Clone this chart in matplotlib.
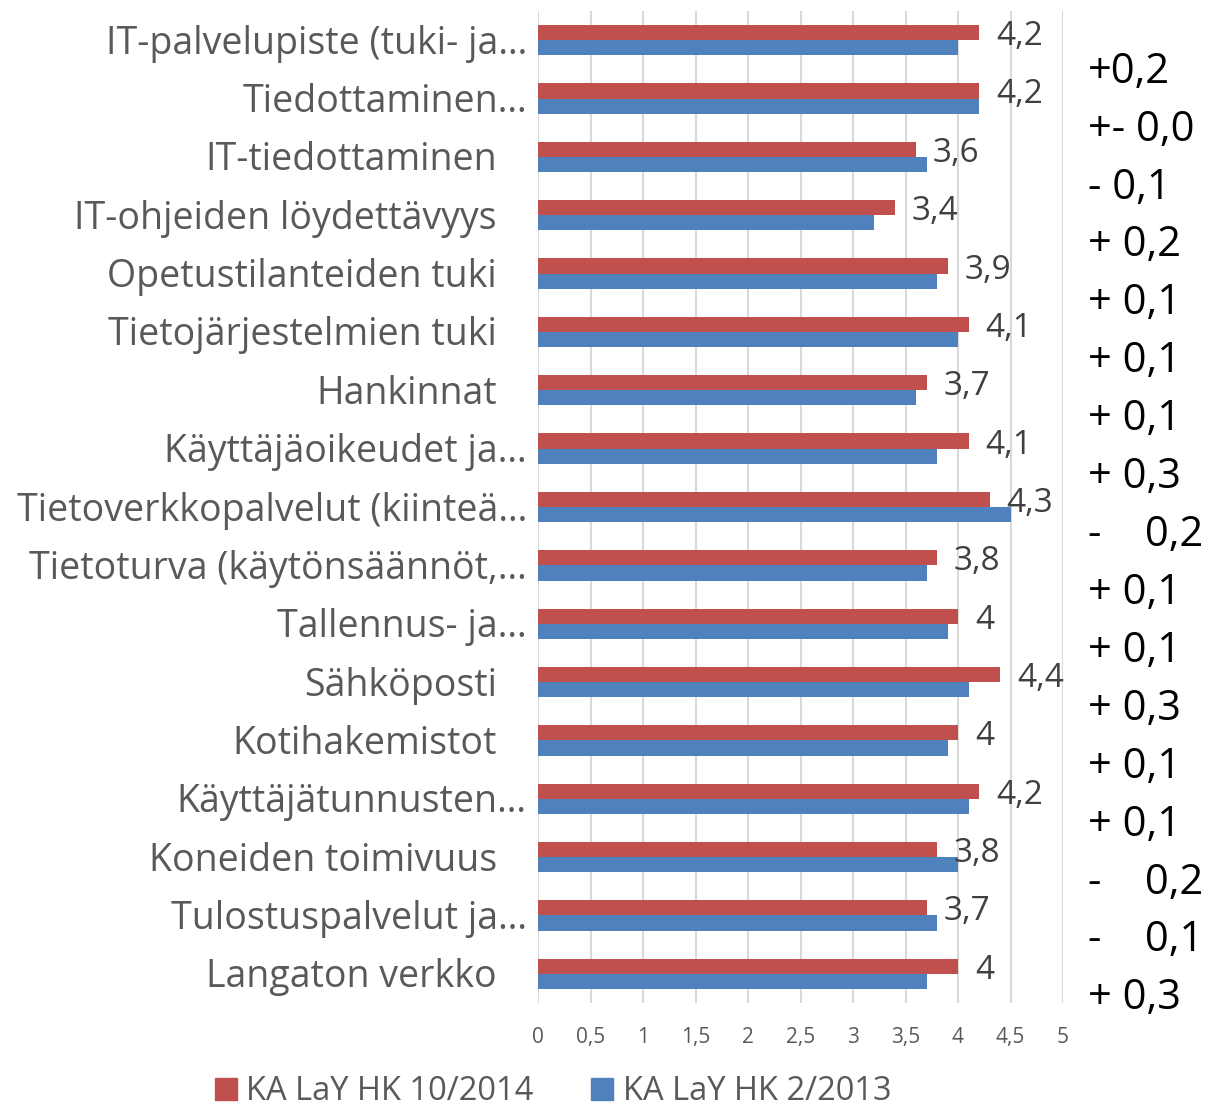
import numpy as np
import matplotlib
matplotlib.use("Agg")
from matplotlib import pyplot as plt
from matplotlib.patches import Patch
from matplotlib import transforms

categories = ['IT-palvelupiste (tuki- ja…', 'Tiedottaminen…', 'IT-tiedottaminen',
              'IT-ohjeiden löydettävyys', 'Opetustilanteiden tuki', 'Tietojärjestelmien tuki',
              'Hankinnat', 'Käyttäjäoikeudet ja…', 'Tietoverkkopalvelut (kiinteä…',
              'Tietoturva (käytönsäännöt,…', 'Tallennus- ja…', 'Sähköposti',
              'Kotihakemistot', 'Käyttäjätunnusten…', 'Koneiden toimivuus',
              'Tulostuspalvelut ja…', 'Langaton verkko']
ka_2014 = [4.2, 4.2, 3.6, 3.4, 3.9, 4.1, 3.7, 4.1, 4.3, 3.8, 4, 4.4, 4, 4.2, 3.8, 3.7, 4]
ka_2013 = [4.0, 4.2, 3.7, 3.2, 3.8, 4.0, 3.6, 3.8, 4.5, 3.7, 3.9, 4.1, 3.9, 4.1, 4.0, 3.8, 3.7]
value_labels = ['4,2', '4,2', '3,6', '3,4', '3,9', '4,1', '3,7', '4,1', '4,3', '3,8',
                '4', '4,4', '4', '4,2', '3,8', '3,7', '4']
changes = ['+0,2', '+- 0,0', '- 0,1', '+ 0,2', '+ 0,1', '+ 0,1', '+ 0,1', '+ 0,3',
           '-    0,2', '+ 0,1', '+ 0,1', '+ 0,3', '+ 0,1', '+ 0,1', '-    0,2',
           '-    0,1', '+ 0,3']
x_ticks = [0, 0.5, 1, 1.5, 2, 2.5, 3, 3.5, 4, 4.5, 5]
x_tick_labels = ['0', '0,5', '1', '1,5', '2', '2,5', '3', '3,5', '4', '4,5', '5']

red = '#C0504D'
blue = '#4F81BD'
grey = '#595959'

plt.rcParams['font.family'] = ['Open Sans', 'DejaVu Sans']

fig = plt.figure(figsize=(12.1, 11.11), dpi=100)
ax = fig.add_axes([538/1210, 1 - 1003/1111, 525/1210, 992/1111])

y = np.arange(len(categories))
h = 0.26
ax.barh(y - h/2, ka_2014, height=h, color=red, zorder=3)
ax.barh(y + h/2, ka_2013, height=h, color=blue, zorder=3)

ax.set_xlim(0, 5)
ax.set_ylim(len(categories) - 0.5, -0.5)
ax.set_xticks(x_ticks)
ax.set_xticklabels(x_tick_labels, fontsize=15, color=grey)
ax.tick_params(axis='x', length=0, pad=17)
ax.set_yticks([])
ax.grid(axis='x', color='#d9d9d9', linewidth=1.5, zorder=0)
for s in ax.spines.values():
    s.set_visible(False)

# value labels for the newer series
for yi, v, lab in zip(y, ka_2014, value_labels):
    ax.annotate(lab, (v, yi - h/2), xytext=(17, -4), textcoords='offset pixels',
                va='center', ha='left', fontsize=24, color='#404040')

# category labels (truncated ones stick out a little, like in Excel)
trans = transforms.blended_transform_factory(ax.transAxes, ax.transData)
for yi, cat in zip(y, categories):
    xr = -11/525 if cat.endswith('…') else -41/525
    ax.text(xr, yi + 0.06, cat, transform=trans, ha='right', va='center',
            fontsize=27, color=grey)

# change column on the right
for yi, c in zip(y, changes):
    ax.text(1.048, 0.54 + yi*0.9925, c, transform=trans, ha='left', va='center',
            fontsize=30, color='black', clip_on=False)

handles = [Patch(color=red), Patch(color=blue)]
fig.legend(handles, ['KA LaY HK 10/2014', 'KA LaY HK 2/2013'], loc='lower center',
           bbox_to_anchor=(0.457, -0.024), ncol=2, frameon=False, fontsize=23.5,
           labelcolor=grey, handlelength=0.67, handleheight=0.67, handletextpad=0.3,
           columnspacing=1.75)

fig.savefig('out.png', dpi=100)
